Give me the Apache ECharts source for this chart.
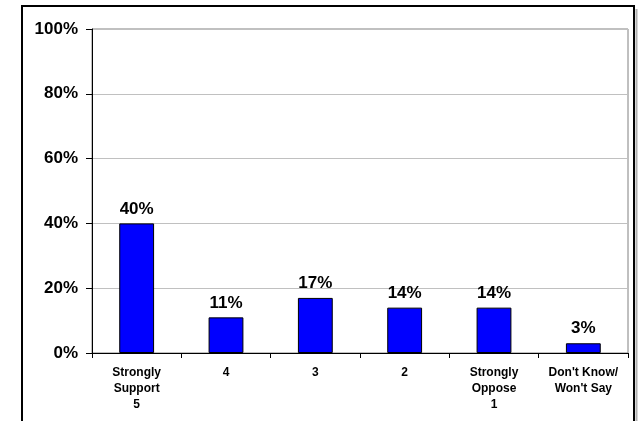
<!DOCTYPE html>
<html><head><meta charset="utf-8">
<script src="https://cdn.jsdelivr.net/npm/echarts@6/dist/echarts.min.js"></script>
<style>html,body{margin:0;padding:0;background:#fff;}#c{width:640px;height:421px;}</style>
</head><body><div id="c"></div>
<script>
const categories = ["Strongly\nSupport\n5", "4", "3", "2", "Strongly\nOppose\n1", "Don't Know/\nWon't Say"];
const values = [40, 11, 17, 14, 14, 3];
const yTicks = [0, 20, 40, 60, 80, 100];

const chart = echarts.init(document.getElementById('c'), null, {renderer: 'canvas'});
chart.setOption({
  animation: false,
  backgroundColor: '#ffffff',
  graphic: [
    {type: 'rect', shape: {x: 22, y: 6, width: 612, height: 440}, style: {fill: 'none', stroke: '#000', lineWidth: 2}, z: 100},
    {type: 'line', shape: {x1: 636.5, y1: 9, x2: 636.5, y2: 421}, style: {stroke: '#b0b0b0', lineWidth: 2}, z: 100}
  ],
  grid: {left: 92, top: 29, right: 12, bottom: 68, show: true, borderColor: '#808080', borderWidth: 1, backgroundColor: 'transparent'},
  xAxis: {
    type: 'category', data: categories,
    axisLine: {lineStyle: {color: '#000', width: 1}},
    axisTick: {show: true, length: 5, lineStyle: {color: '#000'}},
    axisLabel: {color: '#000', fontFamily: 'Liberation Sans, Arial', fontWeight: 'bold', fontSize: 12, lineHeight: 16, margin: 12, interval: 0}
  },
  yAxis: {
    type: 'value', min: 0, max: 100, interval: 20,
    axisLine: {show: true, lineStyle: {color: '#000', width: 1}},
    axisTick: {show: true, length: 6, lineStyle: {color: '#000'}},
    splitLine: {show: true, lineStyle: {color: '#c0c0c0', width: 1}},
    axisLabel: {color: '#000', fontFamily: 'Liberation Sans, Arial', fontWeight: 'bold', fontSize: 17, margin: 14,
      formatter: v => yTicks.includes(v) ? v + '%' : ''}
  },
  series: [{
    type: 'bar', data: values, barWidth: '39%',
    itemStyle: {color: '#0000ff', borderColor: '#000', borderWidth: 1},
    label: {show: true, position: 'top', distance: 6, color: '#000', fontFamily: 'Liberation Sans, Arial', fontWeight: 'bold', fontSize: 17, formatter: p => p.value + '%'}
  }]
});
</script></body></html>
